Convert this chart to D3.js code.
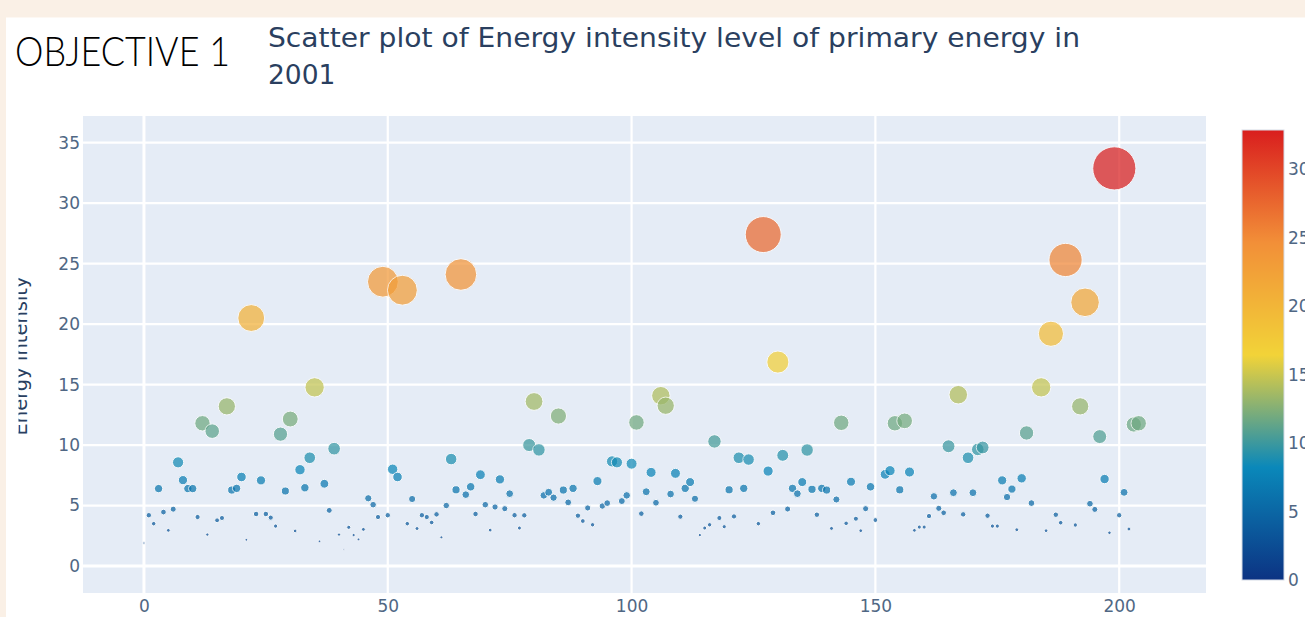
<!DOCTYPE html>
<meta charset="utf-8">
<style>

body {
  margin: 0;
  background: #faf0e6;
}

text {
  font-family: "DejaVu Sans", Verdana, sans-serif;
}

</style>
<svg></svg>
<script src="https://d3js.org/d3.v7.min.js"></script>
<script>

var width = 1305,
    height = 617;

// Energy intensity level of primary energy, 2001, one value per country index (0..204)
var intensity = [
  1.9, 4.2, 3.5, 6.4, 4.46, 2.95, 4.7, 8.57, 7.1, 6.4,
  6.4, 4.05, 11.8, 2.6, 11.15, 3.78, 3.97, 13.2, 6.28, 6.42,
  7.36, 2.17, 20.5, 4.3, 7.08, 4.3, 4.0, 3.3, 10.9, 6.2,
  12.15, 2.9, 7.96, 6.47, 8.95, 14.77, 2.04, 6.8, 4.6, 9.7,
  2.6, 1.35, 3.2, 2.56, 2.2, 3.03, 5.6, 5.07, 4.05, 23.5,
  4.2, 8.0, 7.36, 22.8, 3.5, 5.54, 3.1, 4.2, 4.05, 3.6,
  4.27, 2.37, 5.0, 8.84, 6.3, 24.1, 5.9, 6.55, 4.3, 7.55,
  5.07, 2.97, 4.88, 7.16, 4.74, 5.98, 4.2, 3.14, 4.19, 10.0,
  13.6, 9.6, 5.84, 6.1, 5.65, 12.4, 6.28, 5.26, 6.42, 4.16,
  3.72, 4.8, 3.41, 7.02, 4.96, 5.2, 8.65, 8.57, 5.37, 5.84,
  8.46, 11.87, 4.33, 6.14, 7.74, 5.23, 14.08, 13.25, 5.95, 7.66,
  4.08, 6.42, 6.94, 5.56, 2.56, 3.14, 3.41, 10.3, 3.97, 3.25,
  6.3, 4.1, 8.95, 6.42, 8.8, 0, 3.5, 27.4, 7.85, 4.4,
  16.86, 9.15, 4.71, 6.42, 5.98, 6.94, 9.59, 6.34, 4.24, 6.42,
  6.28, 3.11, 5.5, 11.84, 3.53, 6.97, 3.91, 2.92, 4.74, 6.55,
  3.8, 0, 7.58, 7.88, 11.8, 6.3, 12.0, 7.77, 2.95, 3.22,
  3.22, 4.13, 5.76, 4.77, 4.4, 9.9, 6.06, 14.16, 4.27, 8.95,
  6.06, 9.64, 9.8, 4.16, 3.3, 3.3, 7.08, 5.7, 6.36, 3.0,
  7.25, 11.0, 5.2, 0, 14.77, 2.92, 19.2, 4.24, 3.58, 25.3,
  0, 3.39, 13.2, 21.8, 5.15, 4.68, 10.7, 7.19, 2.75, 32.87,
  4.2, 6.09, 3.06, 11.7, 11.8
];

var xTicks = [0, 50, 100, 150, 200];
var yTicks = [0, 5, 10, 15, 20, 25, 30, 35];
var colorTicks = [0, 5, 10, 15, 20, 25, 30];

// plotly "Portland" colorscale
var portland = ["#0c3383", "#0a88ba", "#f2d338", "#f28f38", "#d91e1e"];

var data = intensity.map(function(v, i) { return {i: i, v: v}; });
var vmax = d3.max(intensity);

var plot = {left: 83, right: 1206, top: 116, bottom: 593};

var x = d3.scaleLinear()
    .domain([-12.5, 217.8])
    .range([plot.left, plot.right]);

var y = d3.scaleLinear()
    .domain([-2.23, 37.2])
    .range([plot.bottom, plot.top]);

var color = d3.scaleLinear()
    .domain(portland.map(function(c, k) { return k / (portland.length - 1) * vmax; }))
    .range(portland);

var radius = d3.scaleLinear()
    .domain([1, vmax])
    .range([0.6, 21.6])
    .clamp(true);

var svg = d3.select("svg")
    .attr("width", width)
    .attr("height", height);

// slide background and white panel
svg.append("rect")
    .attr("width", width)
    .attr("height", height)
    .attr("fill", "#faf0e6");

svg.append("rect")
    .attr("x", 6)
    .attr("y", 17.5)
    .attr("width", width - 6)
    .attr("height", height - 17.5)
    .attr("fill", "#fff");

svg.append("text")
    .attr("x", 15)
    .attr("y", 66)
    .attr("textLength", 215)
    .attr("lengthAdjust", "spacingAndGlyphs")
    .style("font-family", "Lato, 'Open Sans', sans-serif")
    .style("font-weight", 300)
    .style("font-size", "41px")
    .attr("fill", "#000")
    .text("OBJECTIVE 1");

var title = svg.append("text")
    .attr("fill", "#2a3f5f")
    .style("font-size", "26.5px");

title.append("tspan")
    .attr("x", 268)
    .attr("y", 47)
    .attr("textLength", 812)
    .attr("lengthAdjust", "spacingAndGlyphs")
    .text("Scatter plot of Energy intensity level of primary energy in");

title.append("tspan")
    .attr("x", 268)
    .attr("y", 83.5)
    .text("2001");

// plot background
svg.append("rect")
    .attr("x", plot.left)
    .attr("y", plot.top)
    .attr("width", plot.right - plot.left)
    .attr("height", plot.bottom - plot.top)
    .attr("fill", "#e5ecf6");

var grid = svg.append("g")
    .attr("stroke", "#fff");

grid.selectAll(".gx")
    .data(xTicks)
  .enter().append("line")
    .attr("x1", function(d) { return x(d); })
    .attr("x2", function(d) { return x(d); })
    .attr("y1", plot.top)
    .attr("y2", plot.bottom)
    .attr("stroke-width", function(d) { return d === 0 ? 3 : 2.2; });

grid.selectAll(".gy")
    .data(yTicks)
  .enter().append("line")
    .attr("x1", plot.left)
    .attr("x2", plot.right)
    .attr("y1", function(d) { return y(d); })
    .attr("y2", function(d) { return y(d); })
    .attr("stroke-width", function(d) { return d === 0 ? 3 : 2.2; });

svg.append("clipPath")
    .attr("id", "clip")
  .append("rect")
    .attr("x", plot.left)
    .attr("y", plot.top)
    .attr("width", plot.right - plot.left)
    .attr("height", plot.bottom - plot.top);

svg.append("g")
    .attr("clip-path", "url(#clip)")
  .selectAll("circle")
    .data(data.filter(function(d) { return d.v > 0; }))
  .enter().append("circle")
    .attr("cx", function(d) { return x(d.i); })
    .attr("cy", function(d) { return y(d.v); })
    .attr("r", function(d) { return radius(d.v); })
    .attr("fill", function(d) { return color(d.v); })
    .attr("stroke", "#fff")
    .attr("stroke-width", 1)
    .attr("opacity", 0.72);

// axes (labels only, plotly style)
var xAxis = svg.append("g")
    .attr("transform", "translate(0," + plot.bottom + ")")
    .call(d3.axisBottom(x).tickValues(xTicks).tickSize(0).tickPadding(7));

var yAxis = svg.append("g")
    .attr("transform", "translate(" + plot.left + ",0)")
    .call(d3.axisLeft(y).tickValues(yTicks).tickSize(0).tickPadding(3));

[xAxis, yAxis].forEach(function(g) {
  g.select(".domain").remove();
  g.selectAll("text")
      .attr("fill", "#506784")
      .style("font-family", "'DejaVu Sans', Verdana, sans-serif")
      .style("font-size", "17px");
});

svg.append("text")
    .attr("transform", "translate(27,356) rotate(-90)")
    .attr("text-anchor", "middle")
    .attr("fill", "#2a3f5f")
    .style("font-size", "19.5px")
    .text("Energy intensity");

// the chart image was cropped on its left edge
svg.append("rect")
    .attr("x", 6)
    .attr("y", 100)
    .attr("width", 12.5)
    .attr("height", height - 100)
    .attr("fill", "#fff");

// colorbar
var cb = {x: 1242, w: 42, top: 130, bottom: 580};

var cy = d3.scaleLinear()
    .domain([0, vmax])
    .range([cb.bottom, cb.top]);

var grad = svg.append("defs").append("linearGradient")
    .attr("id", "cbar")
    .attr("x1", 0).attr("y1", 1)
    .attr("x2", 0).attr("y2", 0);

grad.selectAll("stop")
    .data(portland)
  .enter().append("stop")
    .attr("offset", function(d, k) { return k / (portland.length - 1); })
    .attr("stop-color", function(d) { return d; });

svg.append("rect")
    .attr("x", cb.x)
    .attr("y", cb.top)
    .attr("width", cb.w)
    .attr("height", cb.bottom - cb.top)
    .attr("fill", "url(#cbar)")
    .attr("stroke", "#d5dbe6")
    .attr("stroke-width", 1);

var cAxis = svg.append("g")
    .attr("transform", "translate(" + (cb.x + cb.w) + ",0)")
    .call(d3.axisRight(cy).tickValues(colorTicks).tickSize(0).tickPadding(4));

cAxis.select(".domain").remove();
cAxis.selectAll("text")
    .attr("fill", "#506784")
    .style("font-family", "'DejaVu Sans', Verdana, sans-serif")
    .style("font-size", "17px");

</script>
